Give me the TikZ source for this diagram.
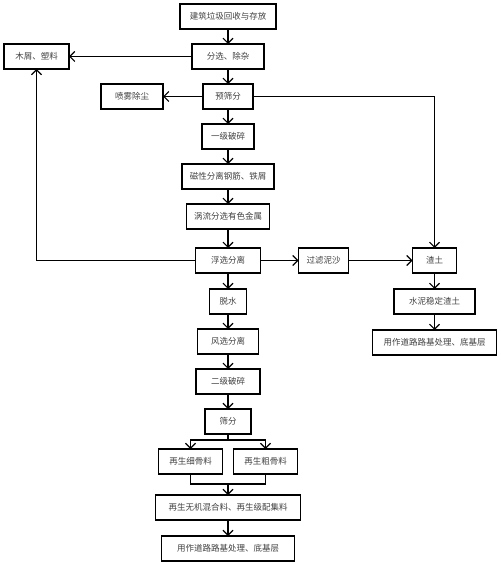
\documentclass[tikz,border=0pt]{standalone}
\usepackage{fontspec}
\newfontfamily\cjk{Noto Sans CJK SC}
\usepackage{tikz}
\usetikzlibrary{arrows.meta, positioning, calc}

\begin{document}
\begin{tikzpicture}[
    box/.style={rectangle, draw, line width=1.2pt, minimum height=25pt, inner sep=2pt, outer sep=0pt, text=black!75, font=\cjk\fontsize{8.5pt}{10pt}\selectfont},
    arrow/.style={-{Straight Barb[length=5pt, width=10pt]}, line width=1.1pt},
    link/.style={line width=1.1pt},
    node distance=15pt
]
    \useasboundingbox (0,0) rectangle (500pt,-564pt);

    % Main line
    \node[box, minimum width=96pt] (collect) at (228pt,-16.5pt) {建筑垃圾回收与存放};
    \node[box, minimum width=72pt, below=15pt of collect] (sort) {分选、除杂};
    \node[box, minimum width=50pt, below=15pt of sort] (presieve) {预筛分};
    \node[box, minimum width=52pt, below=15pt of presieve] (crushone) {一级破碎};
    \node[box, minimum width=92pt, below=15pt of crushone] (magnet) {磁性分离钢筋、铁屑};
    \node[box, minimum width=83pt, below=15pt of magnet] (eddy) {涡流分选有色金属};
    \node[box, minimum width=65pt, below=19pt of eddy] (flotation) {浮选分离};
    \node[box, minimum width=37pt, below=16pt of flotation] (dewater) {脱水};
    \node[box, minimum width=61pt, below=15pt of dewater] (wind) {风选分离};
    \node[box, minimum width=64pt, below=15pt of wind] (crushtwo) {二级破碎};
    \node[box, minimum width=46pt, below=15pt of crushtwo] (sieve) {筛分};

    % Aggregates
    \node[box, minimum width=64pt, below=15pt of sieve, xshift=-37.5pt] (fine) {再生细骨料};
    \node[box, minimum width=64pt, below=15pt of sieve, xshift=37.5pt] (coarse) {再生粗骨料};
    \node[box, minimum width=145pt, below=21pt of fine, xshift=37.5pt] (mixture) {再生无机混合料、再生级配集料};
    \node[box, minimum width=133pt, below=16pt of mixture] (use) {用作道路路基处理、底基层};

    % Side outputs
    \node[box, minimum width=65pt, left=123pt of sort] (wood) {木屑、塑料};
    \node[box, minimum width=62pt, left=40pt of presieve] (spray) {喷雾除尘};
    \node[box, minimum width=50pt, right=38pt of flotation] (filter) {过滤泥沙};
    \node[box, minimum width=44pt, right=64pt of filter] (soil) {渣土};
    \node[box, minimum width=81pt, below=16pt of soil] (cement) {水泥稳定渣土};
    \node[box, minimum width=124pt, below=16pt of cement] (useright) {用作道路路基处理、底基层};

    % Arrows
    \draw[arrow] (collect) -- (sort);
    \draw[arrow] (sort) -- (presieve);
    \draw[arrow] (sort) -- (wood);
    \draw[arrow] (presieve) -- (spray);
    \draw[arrow] (presieve) -- (crushone);
    \draw[arrow] (presieve.east) -| (soil.north);
    \draw[arrow] (crushone) -- (magnet);
    \draw[arrow] (magnet) -- (eddy);
    \draw[arrow] (eddy) -- (flotation);
    \draw[arrow] (flotation.west) -| (wood.south);
    \draw[arrow] (flotation) -- (filter);
    \draw[arrow] (filter) -- (soil);
    \draw[arrow] (soil) -- (cement);
    \draw[arrow] (cement) -- (useright);
    \draw[arrow] (flotation) -- (dewater);
    \draw[arrow] (dewater) -- (wind);
    \draw[arrow] (wind) -- (crushtwo);
    \draw[arrow] (crushtwo) -- (sieve);

    % Split and merge
    \coordinate (split) at ($(sieve.south)+(0,-6pt)$);
    \draw[link] (sieve.south) -- (split);
    \draw[arrow] (split) -| (fine.north);
    \draw[arrow] (split) -| (coarse.north);
    \coordinate (join) at ($(fine.south)!0.5!(coarse.south)+(0,-10pt)$);
    \draw[link] (fine.south) |- (join) -| (coarse.south);
    \draw[arrow] (join) -- (join |- mixture.north);
    \draw[arrow] (mixture) -- (use);

\end{tikzpicture}
\end{document}
